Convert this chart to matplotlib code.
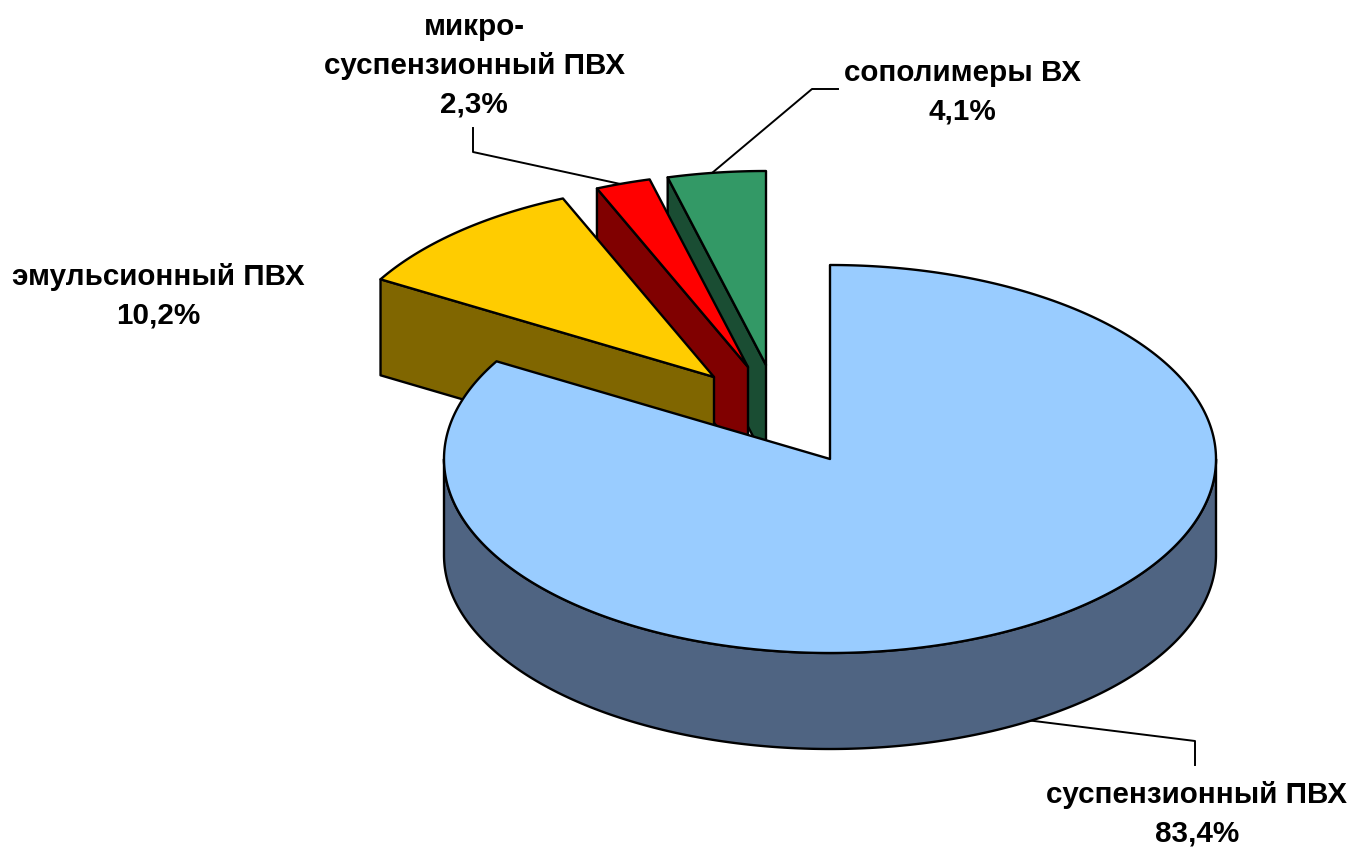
import numpy as np
import matplotlib
matplotlib.use("Agg")
import matplotlib.pyplot as plt
from matplotlib.patches import Polygon

plt.rcParams['font.family'] = ['Liberation Sans', 'DejaVu Sans']

# data, clockwise from 12 o'clock
categories = ["суспензионный ПВХ", "эмульсионный ПВХ", "микро-\nсуспензионный ПВХ", "сополимеры ВХ"]
shares = [83.4, 10.2, 2.3, 4.1]

top_colors = ["#99CCFF", "#FFCC00", "#FF0000", "#339966"]
side_colors = ["#4F6482", "#806600", "#800000", "#1A4D33"]

# layout in pixels
centres = [(830, 459), (714, 377), (748, 367), (766, 365)]
label_pos = [(1197, 814), (158, 296), (474, 66), (962, 92)]
leaders = [
    [(1195, 765), (1195, 741), (1026, 720)],
    [],
    [(473, 128), (473, 152), (625, 185)],
    [(838, 89), (812, 89), (712, 173)],
]
rx = 386
ry = 194
depth = 96
line_w = 1.7


def ellipse_points(centre, start, stop, dy=0):
    """Points on the rim, angles in degrees clockwise from the top"""
    n = max(int(abs(stop - start) * 2), 2)
    angles = np.radians(np.linspace(start, stop, n))
    x = centre[0] + rx * np.sin(angles)
    y = centre[1] - ry * np.cos(angles) + dy
    return np.column_stack([x, y])


def draw_slice(ax, idx, start, stop):
    centre = centres[idx]
    kw = dict(edgecolor="black", linewidth=line_w, joinstyle="round")
    if idx == 0:
        # front wall of the big slice
        upper = ellipse_points(centre, 90, 270)
        lower = ellipse_points(centre, 270, 90, depth)
        ax.add_patch(Polygon(np.vstack([upper, lower]), facecolor=side_colors[idx], **kw))
    else:
        # cut face that looks to the left
        rim = ellipse_points(centre, start, start)[0]
        wall = [centre, rim, (rim[0], rim[1] + depth), (centre[0], centre[1] + depth)]
        ax.add_patch(Polygon(wall, facecolor=side_colors[idx], **kw))
    top = np.vstack([[centre], ellipse_points(centre, start, stop)])
    ax.add_patch(Polygon(top, facecolor=top_colors[idx], **kw))


def main():
    fig = plt.figure(figsize=(13.51, 8.49), dpi=100)
    ax = fig.add_axes([0, 0, 1, 1])
    ax.set_xlim(0, 1351)
    ax.set_ylim(849, 0)
    ax.axis("off")

    for line in leaders:
        if line:
            ax.plot([p[0] for p in line], [p[1] for p in line], color="black", lw=1.4, zorder=0)

    edges = np.cumsum([0] + shares) * 3.6
    # back slices first, big one goes over them
    for idx in [3, 2, 1, 0]:
        draw_slice(ax, idx, edges[idx], edges[idx + 1])

    for idx in range(len(categories)):
        value = f"{shares[idx]:.1f}".replace(".", ",")
        ax.text(label_pos[idx][0], label_pos[idx][1], categories[idx] + "\n" + value + "%",
                ha="center", va="center", fontsize=21.3, fontweight="bold",
                linespacing=1.49, color="black")

    fig.savefig("out.png", dpi=100)


if __name__ == "__main__":
    main()
